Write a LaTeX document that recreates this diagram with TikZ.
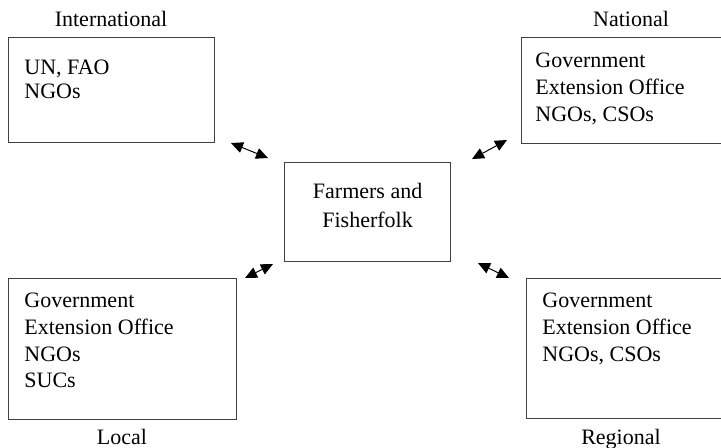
\documentclass[tikz,border=0pt]{standalone}
\usepackage{fontspec}
\setmainfont{Liberation Serif}
\usepackage{xcolor}
\definecolor{boxgray}{RGB}{64,64,64}
\usetikzlibrary{arrows.meta, positioning}

\tikzset{
  actorbox/.style={draw=boxgray, line width=0.6pt, anchor=north west, inner sep=0pt},
  actortext/.style={anchor=north west, align=left, inner sep=0pt, font=\fontsize{11}{13.3}\selectfont},
  levellabel/.style={anchor=base, inner sep=0pt, font=\fontsize{11}{13.3}\selectfont},
  link/.style={{Triangle[length=6pt,width=5.5pt]}-{Triangle[length=6pt,width=5.5pt]}, line width=0.5pt}
}

\begin{document}
\begin{tikzpicture}[x=0.5pt, y=-0.5pt]
  \useasboundingbox (0,0) rectangle (721,447);

  % International
  \node[actorbox, minimum width=103pt, minimum height=52.5pt] (intl) at (8,37) {};
  \node[actortext, font=\fontsize{11}{12}\selectfont, below right=11.5pt and 8pt of intl.north west] (intltxt) {UN, FAO\\NGOs};
  \node[levellabel] (intllbl) at (111,26) {International};

  % National
  \node[actorbox, minimum width=102pt, minimum height=53pt] (natl) at (521,37) {};
  \node[actortext, below right=8pt and 7pt of natl.north west] (natltxt) {Government\\Extension Office\\NGOs, CSOs};
  \node[levellabel] (natllbl) at (631,26) {National};

  % Farmers and Fisherfolk
  \node[actorbox, minimum width=83pt, minimum height=49.5pt] (farm) at (284,162) {};
  \node[actortext, align=center, font=\fontsize{11}{14.5}\selectfont, below=10.5pt of farm.north] (farmtxt) {Farmers and\\Fisherfolk};

  % Local
  \node[actorbox, minimum width=114pt, minimum height=70.5pt] (loc) at (8,278) {};
  \node[actortext, below right=7.5pt and 8pt of loc.north west] (loctxt) {Government\\Extension Office\\NGOs\\SUCs};
  \node[levellabel] (loclbl) at (122,444) {Local};

  % Regional
  \node[actorbox, minimum width=102pt, minimum height=70pt] (regl) at (526,278) {};
  \node[actortext, below right=7.5pt and 8pt of regl.north west] (regltxt) {Government\\Extension Office\\NGOs, CSOs};
  \node[levellabel] (regllbl) at (621,444) {Regional};

  % Links
  \coordinate (intlend) at (231,143);
  \coordinate (farmnw) at (268,158);
  \coordinate (natlend) at (507,140);
  \coordinate (farmne) at (472,159);
  \coordinate (locend) at (245,278);
  \coordinate (farmsw) at (273,264);
  \coordinate (reglend) at (509,278);
  \coordinate (farmse) at (478,263);
  \draw[link] (intlend) -- (farmnw);
  \draw[link] (farmne) -- (natlend);
  \draw[link] (locend) -- (farmsw);
  \draw[link] (farmse) -- (reglend);
\end{tikzpicture}
\end{document}
